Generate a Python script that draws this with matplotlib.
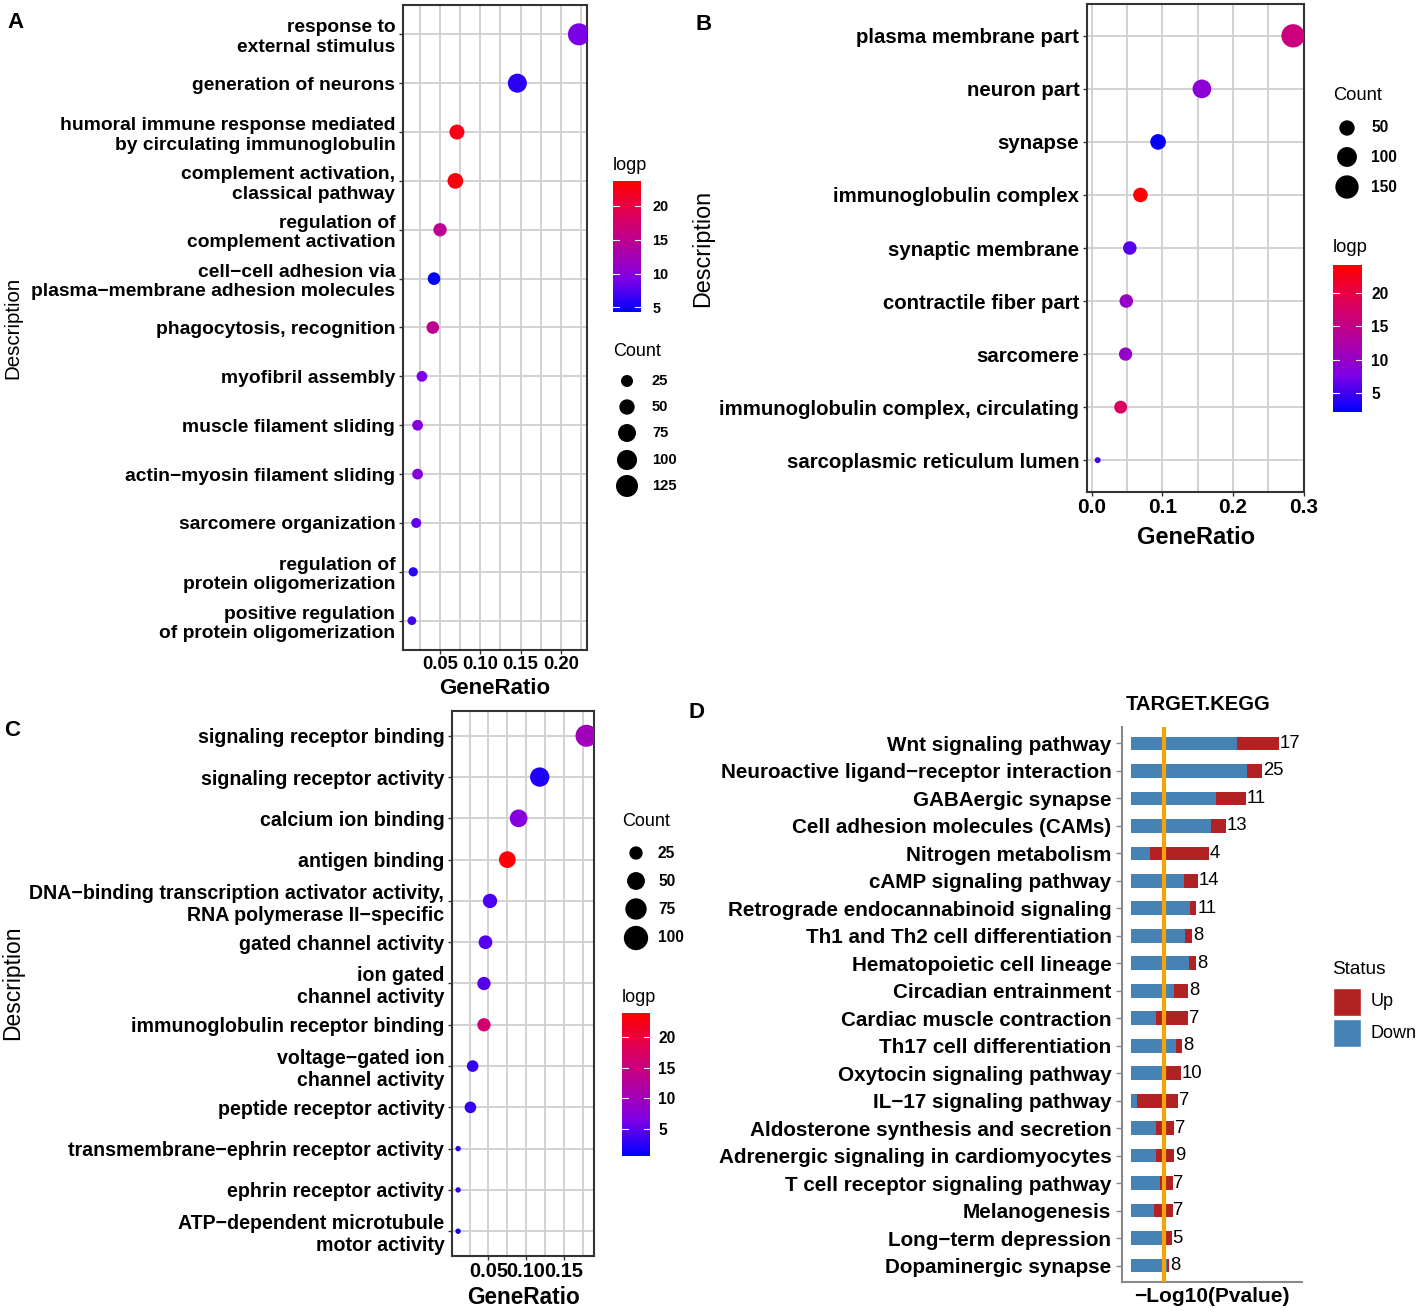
import numpy as np
import matplotlib
matplotlib.use('Agg')
import matplotlib.pyplot as plt
from matplotlib.colors import LinearSegmentedColormap
from matplotlib.patches import Rectangle

plt.rcParams['font.family'] = ['Liberation Sans', 'DejaVu Sans']

# ---------------- data ----------------
# A: biological process
labels_a = ["response to\nexternal stimulus", "generation of neurons",
            "humoral immune response mediated\nby circulating immunoglobulin",
            "complement activation,\nclassical pathway", "regulation of\ncomplement activation",
            "cell\u2212cell adhesion via\nplasma\u2212membrane adhesion molecules",
            "phagocytosis, recognition", "myofibril assembly", "muscle filament sliding",
            "actin\u2212myosin filament sliding", "sarcomere organization",
            "regulation of\nprotein oligomerization", "positive regulation\nof protein oligomerization"]
ratio_a = [0.2225, 0.146, 0.071, 0.069, 0.050, 0.0425, 0.041, 0.0275, 0.0221, 0.0221, 0.0204, 0.0167, 0.015]
count_a = [125, 87, 47, 53, 34, 29, 29, 18, 18, 18, 14, 11, 9]
logp_a = [9, 6, 22.5, 23, 15, 4.3, 15, 9, 10, 10, 8, 6, 7]
xticks_a = [0.05, 0.10, 0.15, 0.20]
minor_a = [0.025, 0.075, 0.125, 0.175, 0.225]
count_breaks_a = [25, 50, 75, 100, 125]
logp_breaks = [5, 10, 15, 20]

# B: cellular component
labels_b = ["plasma membrane part", "neuron part", "synapse", "immunoglobulin complex",
            "synaptic membrane", "contractile fiber part", "sarcomere",
            "immunoglobulin complex, circulating", "sarcoplasmic reticulum lumen"]
ratio_b = [0.285, 0.156, 0.094, 0.069, 0.054, 0.049, 0.048, 0.041, 0.0085]
count_b = [150, 86, 53, 43, 35, 35, 33, 30, 1]
logp_b = [16, 9, 2.5, 23.5, 6, 10, 10, 18, 5]
xticks_b = [0.0, 0.1, 0.2, 0.3]
minor_b = [0.05, 0.15, 0.25]
count_breaks_b = [50, 100, 150]

# C: molecular function
labels_c = ["signaling receptor binding", "signaling receptor activity", "calcium ion binding",
            "antigen binding", "DNA\u2212binding transcription activator activity,\nRNA polymerase II\u2212specific",
            "gated channel activity", "ion gated\nchannel activity", "immunoglobulin receptor binding",
            "voltage\u2212gated ion\nchannel activity", "peptide receptor activity",
            "transmembrane\u2212ephrin receptor activity", "ephrin receptor activity",
            "ATP\u2212dependent microtubule\nmotor activity"]
ratio_c = [0.180, 0.118, 0.090, 0.075, 0.052, 0.046, 0.044, 0.044, 0.029, 0.026, 0.0097, 0.0097, 0.0097]
count_c = [80, 60, 49, 43, 30, 27, 25, 25, 18, 18, 2, 2, 2]
logp_c = [10, 2, 7, 23.5, 4, 4.5, 4.5, 16, 3, 3, 2.5, 3, 1]
xticks_c = [0.05, 0.10, 0.15]
minor_c = [0.025, 0.075, 0.125, 0.175]
count_breaks_c = [25, 50, 75, 100]

# D: KEGG
labels_d = ["Wnt signaling pathway", "Neuroactive ligand\u2212receptor interaction", "GABAergic synapse",
            "Cell adhesion molecules (CAMs)", "Nitrogen metabolism", "cAMP signaling pathway",
            "Retrograde endocannabinoid signaling", "Th1 and Th2 cell differentiation",
            "Hematopoietic cell lineage", "Circadian entrainment", "Cardiac muscle contraction",
            "Th17 cell differentiation", "Oxytocin signaling pathway", "IL\u221217 signaling pathway",
            "Aldosterone synthesis and secretion", "Adrenergic signaling in cardiomyocytes",
            "T cell receptor signaling pathway", "Melanogenesis", "Long\u2212term depression",
            "Dopaminergic synapse"]
down_d = [4.10, 4.49, 3.29, 3.11, 0.75, 2.06, 2.30, 2.10, 2.26, 1.69, 0.97, 1.75, 1.26, 0.23, 0.97, 0.97, 1.13, 0.91, 1.33, 1.39]
up_d = [1.65, 0.60, 1.17, 0.57, 2.26, 0.53, 0.24, 0.28, 0.27, 0.54, 1.26, 0.24, 0.69, 1.60, 0.71, 0.71, 0.49, 0.71, 0.26, 0.10]
genes_d = [17, 25, 11, 13, 4, 14, 11, 8, 8, 8, 7, 8, 10, 7, 7, 9, 7, 7, 5, 8]
cutoff_d = -np.log10(0.05)

# ---------------- figure ----------------
W, H = 1418, 1312
fig = plt.figure(figsize=(W / 100, H / 100), dpi=100)
fig.patch.set_facecolor('white')

cmap = LinearSegmentedColormap.from_list(
    'bluered', ['#0000FF', '#7F00E6', '#B4009E', '#E0005A', '#FF0000'])


def px_axes(x0, y0, x1, y1):
    return fig.add_axes([x0 / W, 1 - y1 / H, (x1 - x0) / W, (y1 - y0) / H])


def dot_size(count, a, b):
    d = a + b * np.sqrt(np.asarray(count, dtype=float))
    return (0.72 * d) ** 2


def dotplot(box, labels, ratio, count, logp, vlim, xlim, ticks, minor, fmt, size_ab, lab_fs, tick_fs):
    ax = px_axes(*box)
    y = np.arange(len(labels))
    ax.scatter(ratio, y, s=dot_size(count, *size_ab), c=logp, cmap=cmap,
               vmin=vlim[0], vmax=vlim[1], linewidths=0, zorder=3)
    ax.set_xlim(*xlim)
    ax.set_ylim(len(labels) - 0.4, -0.6)
    ax.set_xticks(ticks)
    ax.set_xticklabels([fmt % t for t in ticks], fontsize=tick_fs, fontweight='bold')
    ax.set_xticks(minor, minor=True)
    ax.set_yticks(y)
    ax.set_yticklabels(labels, fontsize=lab_fs, fontweight='bold', linespacing=1.2)
    ax.grid(True, which='both', color='#CFCFCF', lw=1.3)
    ax.set_axisbelow(True)
    ax.tick_params(which='major', length=3, width=1, color='#333333', pad=2.5)
    ax.tick_params(axis='x', pad=1)
    ax.tick_params(which='minor', length=0)
    for s in ax.spines.values():
        s.set_color('#333333')
        s.set_linewidth(1.5)
    return ax


def colorbar(box, vlim, fs, pad):
    cax = px_axes(*box)
    grad = np.linspace(vlim[0], vlim[1], 256).reshape(-1, 1)
    cax.imshow(grad, aspect='auto', cmap=cmap, vmin=vlim[0], vmax=vlim[1],
               extent=[0, 1, vlim[0], vlim[1]], origin='lower')
    cax.set_xlim(0, 1)
    cax.set_ylim(*vlim)
    cax.set_xticks([])
    cax.yaxis.tick_right()
    cax.set_yticks(logp_breaks)
    cax.set_yticklabels([str(t) for t in logp_breaks], fontsize=fs, fontweight='bold')
    cax.tick_params(axis='y', length=0, pad=pad)
    for s in cax.spines.values():
        s.set_visible(False)
    for t in logp_breaks:
        cax.plot([0, 0.2], [t, t], color='white', lw=0.8)
        cax.plot([0.8, 1], [t, t], color='white', lw=0.8)


# panel A
dotplot((403, 5, 587, 650), labels_a, ratio_a, count_a, logp_a, (4.3, 23.7),
        (0.004, 0.2325), xticks_a, minor_a, '%.2f', (3.9, 1.62), 13.9, 13.3)
colorbar((613, 181, 641, 312), (4.3, 23.7), 10.4, 8)

# panel B
dotplot((1087, 4, 1304, 492), labels_b, ratio_b, count_b, logp_b, (2.2, 24.1),
        (-0.0066, 0.3005), xticks_b, minor_b, '%.1f', (4.4, 1.545), 14.7, 15)
colorbar((1333, 265, 1362, 412), (2.2, 24.1), 11.2, 6.5)

# panel C
dotplot((452, 711, 594, 1256), labels_c, ratio_c, count_c, logp_c, (0.5, 24.0),
        (0.0016, 0.19), xticks_c, minor_c, '%.2f', (2.3, 2.2), 14.1, 14.4)
colorbar((622, 1013, 650, 1156), (0.5, 24.0), 11.2, 5.8)

# panel D
axd = px_axes(1122, 727, 1302, 1282)
yd = np.arange(len(labels_d))
axd.barh(yd, down_d, height=0.5, color='#4682B4', zorder=2)
axd.barh(yd, up_d, height=0.5, left=down_d, color='#B22222', zorder=2)
axd.axvline(cutoff_d, color='#F5A30A', lw=3, zorder=3)
for yi, dv, uv, g in zip(yd, down_d, up_d, genes_d):
    axd.text(dv + uv + 0.03, yi, str(g), ha='left', va='center', fontsize=13.3, zorder=4)
axd.set_xlim(-0.34, 6.63)
axd.set_ylim(len(labels_d) - 0.4, -0.6)
axd.set_xticks([])
axd.set_yticks(yd)
axd.set_yticklabels(labels_d, fontsize=14.9, fontweight='bold')
axd.tick_params(axis='y', length=4, width=1, color='#888888', pad=3.6)
for side in ['top', 'right']:
    axd.spines[side].set_visible(False)
for side in ['left', 'bottom']:
    axd.spines[side].set_color('#888888')
    axd.spines[side].set_linewidth(1.5)

# ---------------- overlay: titles, legends ----------------
ov = fig.add_axes([0, 0, 1, 1])
ov.set_xlim(0, W)
ov.set_ylim(H, 0)
ov.axis('off')

for letter, x, y in [('A', 16, 22), ('B', 704, 25), ('C', 12, 730), ('D', 696, 712)]:
    ov.text(x, y, letter, fontsize=16, fontweight='bold', ha='center', va='center')

ov.text(13, 328, 'Description', rotation=90, fontsize=14.8, ha='center', va='center')
ov.text(703, 248, 'Description', rotation=90, fontsize=16.8, ha='center', va='center')
ov.text(13, 983, 'Description', rotation=90, fontsize=16.5, ha='center', va='center')
ov.text(495, 688, 'GeneRatio', fontsize=16, fontweight='bold', ha='center', va='center')
ov.text(1196, 537, 'GeneRatio', fontsize=17, fontweight='bold', ha='center', va='center')
ov.text(523, 1298, 'GeneRatio', fontsize=16.3, fontweight='bold', ha='center', va='center')
ov.text(1198, 705, 'TARGET.KEGG', fontsize=14.6, fontweight='bold', ha='center', va='center')
ov.text(1212, 1296, '\u2212Log10(Pvalue)', fontsize=15, fontweight='bold', ha='center', va='center')

# logp titles
ov.text(613, 165, 'logp', fontsize=13, ha='left', va='center')
ov.text(1333, 248, 'logp', fontsize=13.2, ha='left', va='center')
ov.text(622, 997, 'logp', fontsize=13, ha='left', va='center')


def count_legend(x, y_title, ys, breaks, size_ab, lab_x, fs, title_fs):
    ov.text(x - 14, y_title, 'Count', fontsize=title_fs, ha='left', va='center')
    ov.scatter([x] * len(breaks), ys, s=dot_size(breaks, *size_ab), color='black', linewidths=0)
    for yy, b in zip(ys, breaks):
        ov.text(lab_x, yy, str(b), fontsize=fs, fontweight='bold', ha='left', va='center')


count_legend(627, 352, [381, 407, 433, 460, 486], count_breaks_a, (3.9, 1.62), 652, 10.6, 13)
count_legend(1347, 95, [128, 157, 187], count_breaks_b, (4.4, 1.545), 1371, 11.2, 13.2)
count_legend(636, 822, [853, 881, 909, 938], count_breaks_c, (2.3, 2.2), 658, 11.2, 13)

# status legend
ov.text(1332, 969, 'Status', fontsize=13.7, ha='left', va='center')
ov.add_patch(Rectangle((1333, 988), 28, 28, facecolor='#B22222', edgecolor='white', lw=1))
ov.add_patch(Rectangle((1333, 1019), 28, 28, facecolor='#4682B4', edgecolor='white', lw=1))
ov.text(1371, 1002, 'Up', fontsize=13, ha='left', va='center')
ov.text(1371, 1033, 'Down', fontsize=13, ha='left', va='center')

fig.savefig('out.png', dpi=100, facecolor='white')
